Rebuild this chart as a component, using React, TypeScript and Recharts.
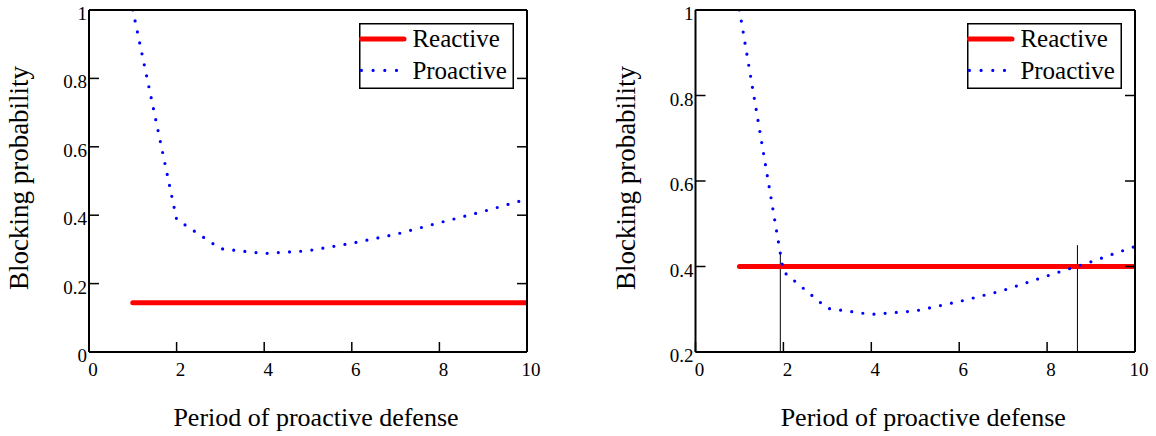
import { LineChart, Line, XAxis, YAxis, ReferenceLine, Legend } from 'recharts';

const PERIODS = [1, 2, 3, 4, 5, 6, 7, 8, 9, 10];
const PROACTIVE = [1.0, 0.388, 0.302, 0.288, 0.296, 0.318, 0.344, 0.378, 0.411, 0.447];
const REACTIVE_SPAN = [1, 10];
const REACTIVE_LEFT = 0.144;
const REACTIVE_RIGHT = 0.4;
const X_TICKS = [0, 2, 4, 6, 8, 10];
const Y_TICKS_LEFT = [0, 0.2, 0.4, 0.6, 0.8, 1];
const Y_TICKS_RIGHT = [0.2, 0.4, 0.6, 0.8, 1];
const CROSS_X = [1.93, 8.69];
const CROSS_TOP = [0.431, 0.45];
const SERIES = ['Reactive', 'Proactive'];

const FONT = '"Liberation Serif", "Times New Roman", serif';
const RED = '#ff0000';
const BLUE = '#0000ff';
const DOTS = '0 11.2';

function BottomTick(props: any) {
  const { x, y, payload } = props;
  return (
    <g>
      <line x1={x} y1={y} x2={x} y2={y - 10} stroke="#000" strokeWidth={1.5} />
      <text x={x + 4} y={y + 24} textAnchor="middle" fontFamily={FONT} fontSize={19} fill="#000">
        {String(payload.value)}
      </text>
    </g>
  );
}

function TopTick(props: any) {
  const { x, y } = props;
  return <line x1={x} y1={y} x2={x} y2={y + 10} stroke="#000" strokeWidth={1.5} />;
}

function LeftTick(props: any) {
  const { x, y, payload } = props;
  return (
    <g>
      <line x1={x} y1={y} x2={x + 10} y2={y} stroke="#000" strokeWidth={1.5} />
      <text x={x - 2} y={y + 10} textAnchor="end" fontFamily={FONT} fontSize={19} fill="#000">
        {String(payload.value)}
      </text>
    </g>
  );
}

function RightTick(props: any) {
  const { x, y } = props;
  return <line x1={x} y1={y} x2={x - 10} y2={y} stroke="#000" strokeWidth={1.5} />;
}

function XTitle(props: any) {
  const vb = props.viewBox || { x: 0, y: 0, width: 0 };
  return (
    <text x={vb.x + vb.width / 2 + 8} y={vb.y + 74} textAnchor="middle" fontFamily={FONT} fontSize={26} fill="#000">
      Period of proactive defense
    </text>
  );
}

function YTitle(props: any) {
  const vb = props.viewBox || { x: 0, y: 0, width: 0, height: 0 };
  const bx = vb.x + (vb.width || 0) - 61;
  const cy = vb.y + vb.height / 2 - 3;
  return (
    <text
      x={bx}
      y={cy}
      transform={`rotate(-90, ${bx}, ${cy})`}
      textAnchor="middle"
      fontFamily={FONT}
      fontSize={27}
      fill="#000"
    >
      Blocking probability
    </text>
  );
}

function LegendBox() {
  const rows = [
    { name: SERIES[0], color: RED, dotted: false },
    { name: SERIES[1], color: BLUE, dotted: true },
  ];
  return (
    <svg width={155} height={66} style={{ display: 'block' }}>
      <rect x={0.75} y={0.75} width={153.5} height={64.5} fill="#fff" stroke="#000" strokeWidth={1.5} />
      {rows.map((r, i) => {
        const cy = 16 + i * 31.4;
        return (
          <g key={r.name}>
            {r.dotted ? (
              <line x1={2.4} y1={cy} x2={40} y2={cy} stroke={r.color} strokeWidth={3.2} strokeDasharray="0 11.7" strokeLinecap="round" />
            ) : (
              <line x1={2.4} y1={cy} x2={45} y2={cy} stroke={r.color} strokeWidth={5} strokeLinecap="round" />
            )}
            <text x={53.4} y={cy + 8.4} fontFamily={FONT} fontSize={25} fill="#000">
              {r.name}
            </text>
          </g>
        );
      })}
    </svg>
  );
}

function Panel({
  reactive,
  yDomain,
  yTicks,
  margin,
  legendLeft,
  crossings,
}: {
  reactive: number;
  yDomain: [number, number];
  yTicks: number[];
  margin: { top: number; right: number; bottom: number; left: number };
  legendLeft: number;
  crossings: boolean;
}) {
  const proactiveData = PERIODS.map((x, i) => ({ x, y: PROACTIVE[i] }));
  const reactiveData = REACTIVE_SPAN.map((x) => ({ x, y: reactive }));
  const axisLine = { stroke: '#000', strokeWidth: 2 };

  return (
    <LineChart width={578} height={436} margin={margin}>
      <XAxis
        xAxisId="b"
        type="number"
        dataKey="x"
        domain={[0, 10]}
        ticks={X_TICKS}
        interval={0}
        allowDataOverflow
        height={1}
        tickSize={0}
        tickMargin={0}
        tickLine={false}
        axisLine={axisLine}
        tick={<BottomTick />}
        label={XTitle}
      />
      <XAxis
        xAxisId="t"
        orientation="top"
        type="number"
        domain={[0, 10]}
        ticks={X_TICKS}
        interval={0}
        allowDataOverflow
        height={1}
        tickSize={0}
        tickMargin={0}
        tickLine={false}
        axisLine={axisLine}
        tick={<TopTick />}
      />
      <YAxis
        yAxisId="l"
        type="number"
        domain={yDomain}
        ticks={yTicks}
        interval={0}
        allowDataOverflow
        width={1}
        tickSize={0}
        tickMargin={0}
        tickLine={false}
        axisLine={axisLine}
        tick={<LeftTick />}
        label={YTitle}
      />
      <YAxis
        yAxisId="r"
        orientation="right"
        type="number"
        domain={yDomain}
        ticks={yTicks}
        interval={0}
        allowDataOverflow
        width={1}
        tickSize={0}
        tickMargin={0}
        tickLine={false}
        axisLine={axisLine}
        tick={<RightTick />}
      />
      {crossings &&
        CROSS_X.map((cx, i) => (
          <ReferenceLine
            key={cx}
            xAxisId="b"
            yAxisId="l"
            segment={[
              { x: cx, y: yDomain[0] },
              { x: cx, y: CROSS_TOP[i] },
            ]}
            stroke="#000"
            strokeWidth={1}
          />
        ))}
      <Line
        xAxisId="b"
        yAxisId="l"
        data={reactiveData}
        dataKey="y"
        name={SERIES[0]}
        type="linear"
        stroke={RED}
        strokeWidth={5}
        strokeLinecap="round"
        dot={false}
        activeDot={false}
        isAnimationActive={false}
      />
      <Line
        xAxisId="b"
        yAxisId="l"
        data={proactiveData}
        dataKey="y"
        name={SERIES[1]}
        type="linear"
        stroke={BLUE}
        strokeWidth={3.2}
        strokeDasharray={DOTS}
        strokeLinecap="round"
        dot={false}
        activeDot={false}
        isAnimationActive={false}
      />
      <Legend
        layout="horizontal"
        verticalAlign="middle"
        align="center"
        wrapperStyle={{ left: legendLeft, top: 23.3, width: 155, height: 66 }}
        content={LegendBox}
      />
    </LineChart>
  );
}

export default function App() {
  return (
    <div style={{ position: 'absolute', left: 0, top: 0, width: 1156, height: 436, background: '#fff' }}>
      <div style={{ position: 'absolute', left: 0, top: 0 }}>
        <Panel
          reactive={REACTIVE_LEFT}
          yDomain={[0, 1]}
          yTicks={Y_TICKS_LEFT}
          margin={{ top: 9, right: 50, bottom: 83, left: 88 }}
          legendLeft={359.3}
          crossings={false}
        />
      </div>
      <div style={{ position: 'absolute', left: 578, top: 0 }}>
        <Panel
          reactive={REACTIVE_RIGHT}
          yDomain={[0.2, 1]}
          yTicks={Y_TICKS_RIGHT}
          margin={{ top: 9, right: 20, bottom: 83, left: 116.5 }}
          legendLeft={388.7}
          crossings
        />
      </div>
    </div>
  );
}
